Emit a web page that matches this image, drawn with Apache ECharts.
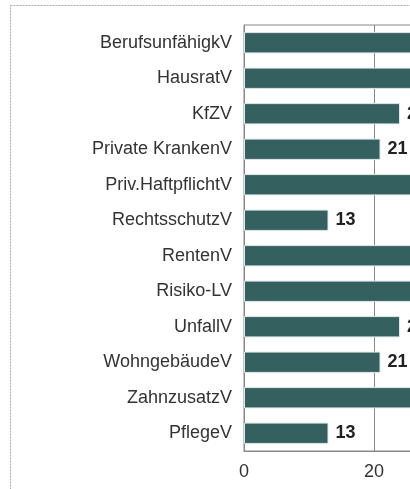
<!DOCTYPE html>
<html>
<head>
<meta charset="utf-8">
<style>
  html, body { margin: 0; padding: 0; background: #fff; }
  #chart { width: 410px; height: 489px; }
</style>
</head>
<body>
<div id="chart"></div>
<script src="https://cdn.jsdelivr.net/npm/echarts@6/dist/echarts.min.js"></script>
<script>
// categories, top to bottom as drawn
var categories = ['BerufsunfähigkV', 'HausratV', 'KfZV', 'Private KrankenV', 'Priv.HaftpflichtV',
  'RechtsschutzV', 'RentenV', 'Risiko-LV', 'UnfallV', 'WohngebäudeV', 'ZahnzusatzV', 'PflegeV'];
// bars that run off the right edge are only known to be > 26
var values = [32, 30, 24, 21, 29, 13, 31, 28, 24, 21, 30, 13];
var xTicks = [0, 20, 40];

var chart = echarts.init(document.getElementById('chart'));

var option = {
  animation: false,
  textStyle: { fontFamily: '"Liberation Sans", Arial, sans-serif' },
  graphic: [{
    type: 'rect',
    shape: { x: 10.5, y: 5.5, width: 500, height: 600 },
    style: { fill: 'none', stroke: '#aaa', lineWidth: 1, lineDash: [2, 1] },
    silent: true
  }],
  grid: {
    left: 244, top: 25, height: 426, width: xTicks[xTicks.length - 1] * 6.5,
    outerBoundsMode: 'none', containLabel: false,
    show: true, borderColor: '#888', borderWidth: 1, backgroundColor: 'transparent'
  },
  xAxis: {
    type: 'value',
    min: xTicks[0], max: xTicks[xTicks.length - 1], interval: 20,
    axisLine: { show: true, lineStyle: { color: '#888' } },
    axisTick: { show: false },
    splitLine: { show: true, lineStyle: { color: '#888', width: 1 } },
    axisLabel: { color: '#333', fontSize: 18, margin: 12 }
  },
  yAxis: {
    type: 'category',
    inverse: true,
    data: categories,
    axisLine: { show: true, lineStyle: { color: '#888' } },
    axisTick: { show: false },
    axisLabel: { color: '#333', fontSize: 18, margin: 12 }
  },
  series: [{
    type: 'bar',
    data: values,
    barCategoryGap: '40%',
    itemStyle: { color: '#34605f', borderColor: '#dfe9e8', borderWidth: 1 },
    label: {
      show: true, position: 'right', distance: 7,
      color: '#222', fontSize: 18, fontWeight: 'bold'
    }
  }]
};
chart.setOption(option);
</script>
</body>
</html>
